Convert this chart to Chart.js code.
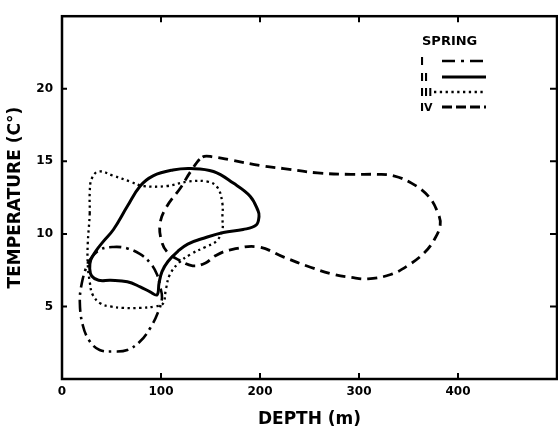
<!DOCTYPE html>
<html><head><meta charset="utf-8">
<script src="https://cdn.jsdelivr.net/npm/chart.js@4"></script>
<style>html,body{margin:0;padding:0;background:#fff}</style>
</head><body>
<canvas id="c" width="558" height="428"></canvas>
<script>
// ---- data ----
const xTicks = [0, 100, 200, 300, 400];
const yTicks = [5, 10, 15, 20];
const legendTitle = 'SPRING';
const seriesNames = ['I', 'II', 'III', 'IV'];

const depthI = [28, 38, 52, 66, 79, 89, 96, 99, 101, 97, 89, 79, 66, 52, 38, 28, 21, 18, 20, 25];
const tempI  = [8.2, 8.9, 9.1, 9.0, 8.6, 8.0, 7.2, 6.4, 5.6, 4.6, 3.5, 2.6, 2.0, 1.9, 2.0, 2.6, 3.7, 5.3, 6.6, 7.8];

const depthII = [96, 89, 79, 66, 49, 37, 30, 28, 29, 34, 42, 52, 66, 79, 92, 112, 130, 153, 173, 190, 198, 199, 196, 183, 163, 143, 127, 117, 107, 101, 98];
const tempII  = [5.8, 6.0, 6.35, 6.7, 6.8, 6.8, 7.1, 7.6, 8.2, 8.8, 9.5, 10.3, 11.9, 13.3, 14.0, 14.4, 14.5, 14.3, 13.5, 12.6, 11.6, 11.2, 10.6, 10.3, 10.1, 9.7, 9.3, 8.8, 8.1, 7.4, 6.6];

const depthIII = [28, 28, 30, 37, 52, 69, 82, 106, 127, 147, 157, 162, 162, 162, 156, 145, 130, 118, 109, 105, 102, 94, 79, 62, 49, 39, 31, 28, 26, 26];
const tempIII  = [11.4, 12.8, 13.8, 14.3, 14.0, 13.6, 13.3, 13.3, 13.6, 13.6, 13.2, 12.1, 11.1, 10.3, 9.5, 9.1, 8.6, 8.0, 7.2, 6.2, 5.2, 5.0, 4.9, 4.9, 5.0, 5.2, 5.8, 6.7, 7.9, 9.3];

const depthIV = [142, 153, 170, 201, 224, 258, 292, 319, 335, 353, 370, 380, 382, 376, 366, 349, 332, 309, 292, 275, 251, 224, 198, 170, 155, 145, 132, 118, 107, 101, 99, 106, 120, 130];
const tempIV  = [15.3, 15.3, 15.1, 14.7, 14.5, 14.2, 14.1, 14.1, 14.0, 13.5, 12.6, 11.4, 10.6, 9.6, 8.7, 7.8, 7.2, 6.9, 7.0, 7.2, 7.7, 8.4, 9.1, 8.9, 8.5, 8.0, 7.8, 8.2, 8.7, 9.4, 10.7, 11.9, 13.2, 14.3];

const toPts = (xs, ys) => xs.map((x, i) => ({x, y: ys[i]}));

const FONT = 'DejaVu Sans';

const loopPlugin = {
  id: 'loop',
  afterDatasetsUpdate(chart) {
    chart.data.datasets.forEach((ds, i) => {
      const meta = chart.getDatasetMeta(i);
      if (meta.dataset) { meta.dataset._loop = true; meta.dataset._fullLoop = true; }
    });
  }
};

const framePlugin = {
  id: 'frame',
  afterDraw(chart) {
    const {ctx, chartArea: a, scales: {x, y}} = chart;
    ctx.save();
    ctx.strokeStyle = '#000';
    ctx.setLineDash([]);
    ctx.lineWidth = 2.5;
    ctx.strokeRect(a.left, a.top, a.right - a.left, a.bottom - a.top);
    ctx.lineWidth = 2;
    ctx.beginPath();
    xTicks.forEach(v => {
      if (v <= x.min) return;
      const px = x.getPixelForValue(v);
      ctx.moveTo(px, a.top); ctx.lineTo(px, a.top + 6);
      ctx.moveTo(px, a.bottom); ctx.lineTo(px, a.bottom - 6);
    });
    yTicks.forEach(v => {
      const py = y.getPixelForValue(v);
      ctx.moveTo(a.left, py); ctx.lineTo(a.left + 5, py);
      ctx.moveTo(a.right, py); ctx.lineTo(a.right - 7, py);
    });
    ctx.stroke();

    // legend
    ctx.fillStyle = '#000';
    ctx.textBaseline = 'middle';
    ctx.textAlign = 'left';
    ctx.font = 'bold 13px "' + FONT + '"';
    ctx.fillText(legendTitle, 422, 42);
    const rows = [61, 77, 92, 107];
    chart.data.datasets.forEach((ds, i) => {
      const ry = rows[i];
      ctx.font = 'bold 11px "' + FONT + '"';
      ctx.fillText(ds.label, 420, ry + 1);
      ctx.lineWidth = ds.borderWidth;
      ctx.setLineDash(ds.legendDash || ds.borderDash || []);
      ctx.beginPath();
      ctx.moveTo(ds.legendStart, ry);
      ctx.lineTo(486, ry);
      ctx.stroke();
    });
    ctx.restore();
  }
};

const common = {showLine: true, pointRadius: 0, tension: 0.4, borderColor: '#000', fill: false, spanGaps: false};

new Chart(document.getElementById('c'), {
  type: 'scatter',
  data: {
    datasets: [
      Object.assign({}, common, {label: seriesNames[0], data: toPts(depthI, tempI), borderWidth: 2.6, borderDash: [12, 5, 2.5, 5], legendDash: [13, 6, 3, 6], legendStart: 442}),
      Object.assign({}, common, {label: seriesNames[1], data: toPts(depthII, tempII), borderWidth: 3, borderDash: [], legendStart: 442}),
      Object.assign({}, common, {label: seriesNames[2], data: toPts(depthIII, tempIII), borderWidth: 2.3, borderDash: [2.3, 3.5], legendStart: 434}),
      Object.assign({}, common, {label: seriesNames[3], data: toPts(depthIV, tempIV), borderWidth: 2.8, borderDash: [10, 6], legendDash: [10, 4], legendStart: 442})
    ]
  },
  options: {
    responsive: false,
    animation: false,
    layout: {padding: {top: 13, right: 1, left: 0, bottom: 0}},
    plugins: {legend: {display: false}, tooltip: {enabled: false}},
    scales: {
      x: {
        type: 'linear', min: 0, max: 500,
        grid: {display: false, drawTicks: false}, border: {display: false},
        afterBuildTicks: s => { s.ticks = xTicks.map(v => ({value: v})); },
        ticks: {font: {family: FONT, weight: 'bold', size: 12}, color: '#000', padding: 6, maxRotation: 0, autoSkip: false},
        title: {display: true, text: 'DEPTH (m)', color: '#000', font: {family: FONT, weight: 'bold', size: 17, lineHeight: 1}, padding: {top: 0, bottom: 0}},
        afterFit: s => { s.height = 49; }
      },
      y: {
        type: 'linear', min: 0, max: 25,
        grid: {display: false, drawTicks: false}, border: {display: false},
        afterBuildTicks: s => { s.ticks = yTicks.map(v => ({value: v})); },
        ticks: {font: {family: FONT, weight: 'bold', size: 12}, color: '#000', padding: 9, autoSkip: false},
        title: {display: true, text: 'TEMPERATURE (C°)', color: '#000', font: {family: FONT, weight: 'bold', size: 17, lineHeight: 1}, padding: {top: 7, bottom: 0}},
        afterFit: s => { s.width = 62; }
      }
    }
  },
  plugins: [loopPlugin, framePlugin]
});
</script>
</body></html>
